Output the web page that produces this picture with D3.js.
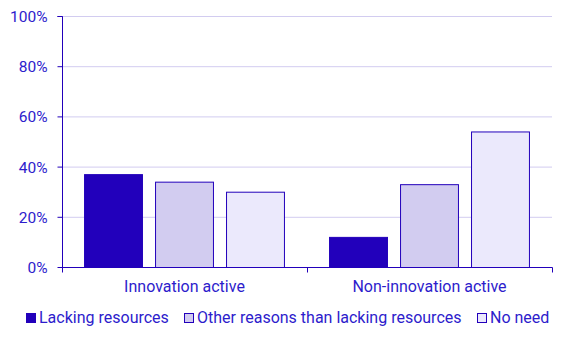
<!DOCTYPE html>
<html><head><meta charset="utf-8">
<script src="https://cdn.jsdelivr.net/npm/d3@7"></script>
<style>body{margin:0;background:#fff}svg{display:block}text{font-family:Roboto,"Noto Sans",sans-serif}</style>
</head><body><svg id="c" width="567" height="340"></svg>
<script>
const categories = ["Innovation active", "Non-innovation active"];
const seriesNames = ["Lacking resources", "Other reasons than lacking resources", "No need"];
const lackingResources = [37, 12];
const otherReasons = [34, 33];
const noNeed = [30, 54];
const yTicks = [0, 20, 40, 60, 80, 100];

const seriesValues = [lackingResources, otherReasons, noNeed];
const fills = ["#2200bb", "#d2ccf0", "#ebe9fc"];
const ink = "#2200bb";
const textCol = "#2d1ccc";

const svg = d3.select("#c");
const L = 62, R = 552, T = 16, B = 267;
const y = d3.scaleLinear().domain([0, 100]).range([B, T]);
const x0 = d3.scaleBand().domain(categories).range([L, R]).paddingInner(0.18).paddingOuter(0.09);
const x1 = d3.scaleBand().domain(seriesNames).range([0, x0.bandwidth()]).paddingInner(0.17);

// grid
svg.append("g").selectAll("line").data(yTicks.filter(d => d > 0)).join("line")
  .attr("x1", L).attr("x2", R).attr("y1", d => y(d) + 0.5).attr("y2", d => y(d) + 0.5)
  .attr("stroke", "#d2ccf0").attr("stroke-width", 1);

// y axis
const ya = svg.append("g").attr("transform", `translate(${L + 0.5},0)`)
  .call(d3.axisLeft(y).tickValues(yTicks).tickFormat(d => d + "%").tickSize(5).tickPadding(10));
ya.select(".domain").attr("stroke", ink).attr("d", `M-5,${T + 0.5}H0V${B + 0.5}`);
ya.selectAll(".tick line").attr("stroke", ink);
ya.selectAll(".tick").attr("transform", d => `translate(0,${y(d) + 0.5})`);
ya.selectAll("text").attr("fill", textCol).style("font-size", "15.5px").attr("dy", "0.35em");

// bars
const groups = svg.append("g").selectAll("g").data(categories).join("g")
  .attr("transform", d => `translate(${x0(d)},0)`);
groups.selectAll("rect").data((c, ci) => seriesNames.map((s, si) => ({ s, si, v: seriesValues[si][ci] })))
  .join("rect")
  .attr("x", d => x1(d.s) + 0.5).attr("width", x1.bandwidth() - 1)
  .attr("y", d => y(d.v) + 0.5).attr("height", d => y(0) - y(d.v))
  .attr("fill", d => fills[d.si]).attr("stroke", ink).attr("stroke-width", 1);

// x axis
const xa = svg.append("g").attr("transform", `translate(0,${B + 0.5})`);
xa.append("line").attr("x1", L).attr("x2", R + 0.5).attr("stroke", ink);
const bounds = [L, (x0(categories[0]) + x0.bandwidth() + x0(categories[1])) / 2, R];
xa.selectAll(".tk").data(bounds).join("line").attr("class", "tk")
  .attr("x1", d => Math.round(d) + 0.5).attr("x2", d => Math.round(d) + 0.5).attr("y1", 0).attr("y2", 5)
  .attr("stroke", ink);
xa.selectAll("text").data(categories).join("text")
  .attr("x", d => x0(d) + x0.bandwidth() / 2).attr("y", 19).attr("dy", "0.35em")
  .attr("text-anchor", "middle").attr("fill", textCol).style("font-size", "16px").text(d => d);

// legend
const legX = [26, 184, 477];
const lg = svg.append("g").selectAll("g").data(seriesNames).join("g")
  .attr("transform", (d, i) => `translate(${legX[i]},318)`);
lg.append("rect").attr("x", 0.5).attr("y", -4.5).attr("width", 9).attr("height", 9)
  .attr("fill", (d, i) => fills[i]).attr("stroke", ink);
lg.append("text").attr("x", 13).attr("y", -1).attr("dy", "0.35em")
  .attr("fill", textCol).style("font-size", "16px").text(d => d);
</script></body></html>
